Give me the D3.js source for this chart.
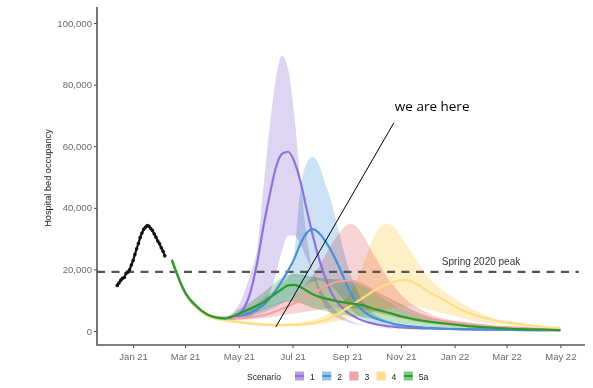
<!DOCTYPE html>
<html><head><meta charset="utf-8">
<script src="https://cdn.jsdelivr.net/npm/d3@7"></script>
<style>
html,body{margin:0;padding:0;background:#fff;}
svg{display:block;font-family:"Liberation Sans",Arial,sans-serif;}
</style></head>
<body><svg id="chart" width="593" height="388"></svg>
<script>
// ---------- DATA (values in thousands of occupied beds) ----------
const obsDates = ["2020-12-14","2020-12-16","2020-12-18","2020-12-20","2020-12-22","2020-12-24","2020-12-26","2020-12-28","2020-12-30","2021-01-01","2021-01-03","2021-01-05","2021-01-07","2021-01-09","2021-01-11","2021-01-13","2021-01-15","2021-01-17","2021-01-19","2021-01-21","2021-01-23","2021-01-25","2021-01-27","2021-01-29","2021-01-31","2021-02-02","2021-02-04","2021-02-06"];
const obsValues = [14.8,15.6,16.5,17.1,17.4,18.7,19.1,19.9,21.4,22.9,24.8,26.7,28.4,30.3,31.8,33.0,33.7,34.2,34.0,33.3,32.6,31.5,30.4,29.2,28.3,27.0,25.9,24.4];

const dates = ["2021-02-14","2021-03-01","2021-03-15","2021-04-01","2021-04-15","2021-05-01","2021-05-15","2021-05-22","2021-05-29","2021-06-05","2021-06-12","2021-06-19","2021-06-26","2021-07-03","2021-07-10","2021-07-17","2021-07-24","2021-07-31","2021-08-07","2021-08-14","2021-08-21","2021-08-28","2021-09-04","2021-09-11","2021-09-18","2021-09-25","2021-10-02","2021-10-09","2021-10-16","2021-10-23","2021-10-30","2021-11-06","2021-11-13","2021-11-20","2021-11-27","2021-12-04","2021-12-15","2022-01-01","2022-01-15","2022-02-01","2022-02-15","2022-03-01","2022-03-15","2022-04-01","2022-04-15","2022-05-01"];

const scenarios = ["1","2","3","4","5a"];

const s1Mid = [23.0,12.5,7.7,4.6,4.0,5.5,13.5,22.5,34,44,53,57.5,58.2,55,48.5,39.5,31,23.5,17.4,12.5,9.3,7.1,5.5,4.4,3.5,2.8,2.3,1.9,1.6,1.4,1.2,1.1,1.0,0.9,0.85,0.8,0.7,0.6,0.5,0.45,0.4,0.35,0.3,0.3,0.25,0.25];
const s1Hi  = [23.8,13.2,8.3,5.1,4.6,8.5,19.5,27,47,66,82,89.4,85,70,49,31,19,12,8,5.5,4.2,3.3,2.7,2.2,1.9,1.6,1.4,1.2,1.1,1.0,0.9,0.85,0.8,0.75,0.7,0.65,0.6,0.55,0.5,0.45,0.4,0.35,0.35,0.3,0.3,0.3];
const s1Lo  = [22.2,11.8,7.1,4.1,3.5,3.8,5,6.5,8.5,12,18.5,26,31,31,28,23.5,19,14.5,11,8,6,4.5,3.4,2.6,2.0,1.6,1.3,1.1,0.9,0.8,0.7,0.6,0.55,0.5,0.45,0.4,0.35,0.3,0.25,0.2,0.2,0.2,0.15,0.15,0.1,0.1];

const s2Mid = [23.0,12.5,7.7,4.6,4.0,4.8,6.1,7.1,8.4,10.5,13.2,16.3,19.6,23.5,28.3,31.8,33.1,31.8,29.3,26,21.9,17.4,12.9,9.3,6.8,5.3,4.2,3.5,2.9,2.4,2.0,1.7,1.5,1.3,1.1,1.0,0.85,0.7,0.6,0.5,0.45,0.4,0.35,0.3,0.3,0.25];
const s2Hi  = [23.8,13.2,8.3,5.1,4.6,5.8,7.5,9,10.5,12,13.5,15.5,17.5,25,46,54.5,56.6,54,48,42,34,26,19,14,10,7.5,5.5,4.3,3.4,2.8,2.4,2.0,1.8,1.6,1.4,1.2,1.0,0.85,0.7,0.6,0.5,0.45,0.4,0.35,0.3,0.3];
const s2Lo  = [22.2,11.8,7.1,4.1,3.5,4.0,4.8,5.4,6.0,6.8,7.8,9,10.5,12,13.5,15,16,16.5,16,14.5,12.5,10,7.5,5.5,4.2,3.2,2.5,2.0,1.6,1.3,1.1,0.9,0.8,0.7,0.6,0.55,0.5,0.4,0.35,0.3,0.25,0.25,0.2,0.2,0.15,0.15];

const s3Mid = [23.0,12.5,7.7,4.6,4.0,4.2,4.5,4.8,5.1,5.7,6.4,7.2,8.0,9.0,10.0,11.1,12.2,13.4,14.5,15.3,16.0,16.3,16.4,16.0,15.1,14.1,12.9,11.6,10.3,9.1,8.0,7.0,6.1,5.4,4.8,4.2,3.5,2.8,2.3,1.8,1.4,1.2,1.0,0.8,0.6,0.5];
const s3Hi  = [23.8,13.2,8.3,5.1,4.6,5.0,5.8,6.5,7.2,8.0,8.8,9.5,10.3,11.8,13.5,15.5,18,21,24.5,28,31,33.5,34.8,34,31.5,28,24.5,21,17.5,15,12.5,10.5,8.8,7.6,6.5,5.5,4.4,3.4,2.8,2.2,1.7,1.4,1.1,0.9,0.75,0.6];
const s3Lo  = [22.2,11.8,7.1,4.1,3.5,3.6,3.8,4.0,4.2,4.5,4.8,5.1,5.4,5.7,6.0,6.3,6.6,6.9,7.1,7.3,7.4,7.5,7.5,7.3,7.0,6.6,6.1,5.6,5.1,4.6,4.2,3.8,3.4,3.0,2.7,2.4,2.0,1.6,1.3,1.0,0.8,0.7,0.6,0.5,0.4,0.3];

const s4Mid = [23.0,12.5,7.4,4.3,3.5,2.9,2.4,2.2,2.1,2.0,1.9,1.9,2.0,2.0,2.1,2.3,2.6,3.0,3.5,4.4,5.5,6.7,8.0,9.3,10.6,11.9,13.2,14.2,15.1,15.8,16.4,16.5,16.1,15.1,13.8,12.4,10.9,8.0,6.1,4.5,3.5,2.9,2.3,1.7,1.3,1.0];
const s4Hi  = [23.8,13.2,8.0,4.8,4.0,3.4,2.9,2.7,2.6,2.5,2.4,2.4,2.5,2.6,2.8,3.1,3.5,4.2,5.0,6.4,8.0,10.0,12.0,16.0,20.5,26,31,34,34.8,34,31.5,28.5,25.5,22.5,19.5,17,14,10.5,8,5.5,4.0,3.0,2.4,1.8,1.4,1.1];
const s4Lo  = [22.2,11.8,6.8,3.8,3.0,2.4,2.0,1.8,1.7,1.6,1.5,1.5,1.5,1.6,1.6,1.7,1.9,2.1,2.4,2.8,3.2,3.7,4.2,4.7,5.2,5.7,6.2,6.7,7.1,7.5,7.8,8.0,8.0,7.8,7.4,6.8,6.0,4.8,3.8,2.9,2.3,1.9,1.5,1.2,0.9,0.7];

const s5Mid = [23.0,12.5,7.7,4.6,4.0,5.6,7.4,8.3,9.3,10.8,12.2,13.6,14.8,15.0,14.3,13.1,11.9,11.1,10.6,10.1,9.6,9.3,9.0,8.7,8.4,7.8,7.1,6.6,6.1,5.5,4.9,4.4,4.0,3.6,3.3,3.0,2.6,2.1,1.6,1.3,1.0,0.8,0.6,0.5,0.4,0.3];
const s5Hi  = [23.8,13.2,8.3,5.1,4.6,7.0,9.5,11,12.5,14.2,15.8,17.2,18.2,18.6,18.4,18.0,17.6,17.3,17.0,16.9,16.8,16.6,16.3,15.8,15.0,14.0,13.0,12.0,11.0,10.0,9.0,8.0,7.0,6.0,5.2,4.5,3.6,2.8,2.2,1.7,1.3,1.0,0.8,0.6,0.5,0.4];
const s5Lo  = [22.2,11.8,7.1,4.1,3.5,4.5,5.5,6.2,7.0,7.8,8.5,9.1,9.5,9.5,9.0,8.3,7.5,7.0,6.5,6.0,5.5,5.2,5.0,4.7,4.5,4.1,3.8,3.5,3.2,2.9,2.5,2.2,2.0,1.8,1.6,1.4,1.2,1.0,0.8,0.6,0.5,0.4,0.3,0.25,0.2,0.15];

const yTicks = [0,20,40,60,80,100];
const xTicks = ["2021-01-01","2021-03-01","2021-05-01","2021-07-01","2021-09-01","2021-11-01","2022-01-01","2022-03-01","2022-05-01"];
const xTickLabels = ["Jan 21","Mar 21","May 21","Jul 21","Sep 21","Nov 21","Jan 22","Mar 22","May 22"];

const springPeak = 19.2;
const springPeakRange = ["2020-11-21","2022-05-22"];
const springLabel = {date:"2022-01-31", value:21.4, text:"Spring 2020 peak"};
const hereLine = [{date:"2021-10-24", value:67.6},{date:"2021-06-12", value:1.3}];
const hereLabel = {date:"2021-10-24", value:71.3, text:"we are here"};

// ---------- STYLES ----------
const lineColors   = {"1":"#8f72d8","2":"#4a8fd6","3":"#f2a0a0","4":"#ffdf85","5a":"#2b9a2b"};
const ribbonColors = {"1":"#a28ad8","2":"#80b3e0","3":"#ec9097","4":"#ffd873","5a":"#5dba5d"};
const ribbonOpacity = {"1":0.36,"2":0.4,"3":0.4,"4":0.4,"5a":0.4};

const series = {
  "1":{mid:s1Mid,lo:s1Lo,hi:s1Hi},
  "2":{mid:s2Mid,lo:s2Lo,hi:s2Hi},
  "3":{mid:s3Mid,lo:s3Lo,hi:s3Hi},
  "4":{mid:s4Mid,lo:s4Lo,hi:s4Hi},
  "5a":{mid:s5Mid,lo:s5Lo,hi:s5Hi}
};

// ---------- CHART ----------
(function(){
const parse = d3.timeParse("%Y-%m-%d");
const svg = d3.select("#chart");
const mLeft = 97, mRight = 585, mTop = 7, mBottom = 345;

const x = d3.scaleTime().domain([parse("2020-11-21"), parse("2022-05-29")]).range([mLeft, mRight]);
const y = d3.scaleLinear().domain([-4.55, 105.2]).range([mBottom, mTop]);

const pts = k => dates.map((d,i)=>({d:parse(d), mid:series[k].mid[i], lo:series[k].lo[i], hi:series[k].hi[i]}));

const area = d3.area().x(p=>x(p.d)).y0(p=>y(p.lo)).y1(p=>y(p.hi)).curve(d3.curveMonotoneX);
const line = d3.line().x(p=>x(p.d)).y(p=>y(p.mid)).curve(d3.curveMonotoneX);

const gR = svg.append("g");
scenarios.forEach(k=>{
  gR.append("path").datum(pts(k)).attr("d",area)
    .attr("fill",ribbonColors[k]).attr("fill-opacity",ribbonOpacity[k]).attr("stroke","none")
    .style("mix-blend-mode","multiply");
});

// spring 2020 peak line
svg.append("line")
  .attr("x1",x(parse(springPeakRange[0]))).attr("x2",x(parse(springPeakRange[1])))
  .attr("y1",y(springPeak)).attr("y2",y(springPeak))
  .attr("stroke","#555").attr("stroke-width",2.2).attr("stroke-dasharray","8,6.5");
svg.append("text").attr("x",x(parse(springLabel.date))).attr("y",y(springLabel.value))
  .attr("text-anchor","middle").attr("font-size",10).attr("fill","#333").text(springLabel.text);

const gL = svg.append("g");
scenarios.forEach(k=>{
  gL.append("path").datum(pts(k)).attr("d",line)
    .attr("fill","none").attr("stroke",lineColors[k])
    .attr("stroke-width", k==="5a"?2.2:2.2);
});

// observed
const obs = obsDates.map((d,i)=>({d:parse(d), v:obsValues[i]}));
svg.append("path").datum(obs)
  .attr("d", d3.line().x(p=>x(p.d)).y(p=>y(p.v)))
  .attr("fill","none").attr("stroke","#111").attr("stroke-width",2.2);
svg.append("g").selectAll("circle").data(obs).join("circle")
  .attr("cx",p=>x(p.d)).attr("cy",p=>y(p.v)).attr("r",1.8).attr("fill","#111");

// axes
const yAxis = d3.axisLeft(y).tickValues(yTicks).tickSize(3).tickPadding(2)
  .tickFormat(d=>d3.format(",")(d*1000));
const gy = svg.append("g").attr("transform",`translate(${mLeft},0)`).call(yAxis);
gy.select(".domain").remove();
gy.selectAll(".tick line").attr("stroke","#444").attr("stroke-width",1);
gy.selectAll(".tick text").attr("font-size",9.6).attr("fill","#6a6a6a").attr("font-family","Liberation Sans, Arial, sans-serif");

const xAxis = d3.axisBottom(x).tickValues(xTicks.map(parse)).tickSize(3).tickPadding(5)
  .tickFormat((d,i)=>xTickLabels[i]);
const gx = svg.append("g").attr("transform",`translate(0,${mBottom})`).call(xAxis);
gx.select(".domain").remove();
gx.selectAll(".tick line").attr("stroke","#444").attr("stroke-width",1);
gx.selectAll(".tick text").attr("font-size",9.5).attr("fill","#6a6a6a").attr("font-family","Liberation Sans, Arial, sans-serif");

svg.append("path").attr("d",`M${mLeft},${mTop}V${mBottom}H${mRight}`)
  .attr("fill","none").attr("stroke","#555").attr("stroke-width",1.6);

// y title
svg.append("text").attr("transform",`translate(51,${(y(0)+y(100))/2 + 1}) rotate(-90)`)
  .attr("text-anchor","middle").attr("font-size",9.2).attr("fill","#222").text("Hospital bed occupancy");

// annotation
svg.append("line")
  .attr("x1",x(parse(hereLine[0].date))).attr("y1",y(hereLine[0].value))
  .attr("x2",x(parse(hereLine[1].date))).attr("y2",y(hereLine[1].value))
  .attr("stroke","#000").attr("stroke-width",1);
svg.append("text").attr("x",x(parse(hereLabel.date))+1).attr("y",y(hereLabel.value))
  .attr("font-family","Open Sans, sans-serif").attr("font-size",13.5).attr("fill","#000").text(hereLabel.text);

// legend
const lg = svg.append("g").attr("transform","translate(0,376)");
lg.append("text").attr("x",247).attr("y",3.5).attr("font-size",8.6).attr("fill","#222").text("Scenario");
scenarios.forEach((k,i)=>{
  const sx = 295 + i*27.2;
  lg.append("rect").attr("x",sx).attr("y",-4.5).attr("width",9).attr("height",9)
    .attr("fill",ribbonColors[k]).attr("fill-opacity",0.8);
  lg.append("line").attr("x1",sx).attr("x2",sx+9).attr("y1",0).attr("y2",0)
    .attr("stroke",lineColors[k]).attr("stroke-width",2);
  lg.append("text").attr("x",sx+15).attr("y",3.5).attr("font-size",8.6).attr("fill","#222").text(k);
});
})();
</script></body></html>
